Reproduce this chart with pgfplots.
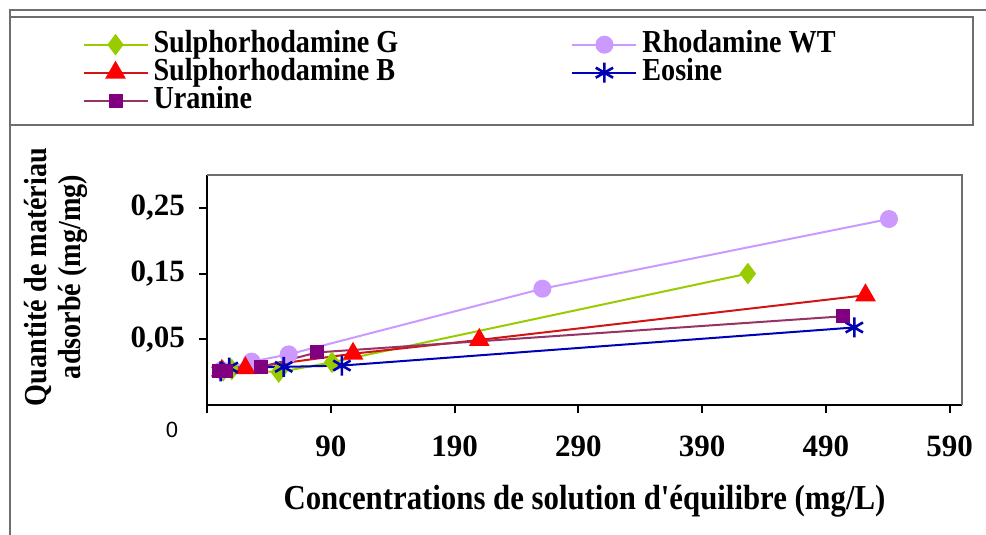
\documentclass[border=0pt]{standalone}
\usepackage{fontspec}
\setmainfont{Liberation Serif}
\setsansfont{Liberation Sans}
\newfontfamily\cond{Liberation Serif}[FakeStretch=0.88]
\usepackage{pgfplots}
\pgfplotsset{compat=1.18}
\definecolor{cWT}{RGB}{204,153,255}
\definecolor{cG}{RGB}{153,204,0}
\definecolor{cB}{RGB}{255,0,0}
\definecolor{cBl}{RGB}{210,20,20}
\definecolor{cU}{RGB}{128,0,128}
\definecolor{cUl}{RGB}{150,50,100}
\definecolor{cE}{RGB}{0,0,180}
\definecolor{frm}{RGB}{110,110,110}
\newcommand\legf{\cond\fontsize{16}{17}\selectfont\bfseries}
\newcommand\ylf{\cond\fontsize{16}{17}\selectfont\bfseries}
\newcommand\xlf{\cond\fontsize{17.5}{19}\selectfont\bfseries}
\newcommand\tickf{\fontsize{15.5}{17}\selectfont\bfseries}
\begin{document}
\begin{tikzpicture}
\path[use as bounding box] (0,0) rectangle (493pt,267.5pt);
\draw[frm, line width=1pt] (5pt,0) -- (5pt,262.5pt) -- (493pt,262.5pt);
\draw[frm, line width=0.8pt] (5pt,259pt) rectangle (486.5pt,205pt);
\begin{axis}[name=ax, at={(103.5pt,65pt)}, anchor=south west, scale only axis,
  width=377.5pt, height=115pt,
  xmin=-10, xmax=600, ymin=-0.05, ymax=0.30,
  axis x line*=bottom, axis y line*=left,
  axis line style={-, black, line width=1pt},
  xtick={-10,90,190,290,390,490,590},
  xticklabels={,90,190,290,390,490,590},
  ytick={0.05,0.15,0.25},
  /pgf/number format/assume math mode=true,
  yticklabel style={/pgf/number format/fixed, /pgf/number format/fixed zerofill,
    /pgf/number format/precision=2, /pgf/number format/use comma, xshift=-3.5pt},
  xticklabel style={yshift=-8pt},
  tick label style={font=\tickf},
  tick align=outside, major tick length=4pt, tick style={black, line width=1pt},
  xlabel={Concentrations de solution d'équilibre (mg/L)},
  xlabel style={at={(axis description cs:0.5,-0.42)}, anchor=center, font=\xlf},
  ylabel={Quantité de matériau\\adsorbé (mg/mg)},
  ylabel style={at={(axis description cs:-0.2,0.5565)}, anchor=center, align=center, font=\ylf},
  legend columns=2,
  legend cell align=left,
  legend style={draw=none, fill=none, at={(axis description cs:-0.1654,1.627)}, anchor=north west,
    font=\legf, nodes={inner xsep=2.5pt, inner ysep=0pt, text height=10.5pt, text depth=3pt},
    /tikz/every even column/.append style={column sep=84pt}, row sep=0.5pt, inner sep=0pt},
  legend image code/.code={\draw[mark repeat=2, mark phase=2, #1] plot coordinates {(0pt,0pt) (16pt,0pt) (32pt,0pt)};},
]
\addplot[color=cG, line width=1pt, mark=diamond*, mark size=4.6pt, mark options={fill=cG, draw=cG}]
  coordinates {(3,0.002) (10,0.004) (48,0.0) (91,0.015) (427,0.150)};
\addlegendentry{Sulphorhodamine G}
\addplot[color=cWT, line width=1pt, mark=*, mark size=4pt, mark options={fill=cWT, draw=cWT}]
  coordinates {(2,0.003) (26,0.016) (56,0.027) (261,0.127) (541,0.233)};
\addlegendentry{Rhodamine WT}
\addplot[color=cBl, line width=1pt, mark=triangle*, mark size=5pt, mark options={fill=cB, draw=cB}]
  coordinates {(2,0.002) (21,0.006) (108,0.028) (210,0.049) (522,0.117)};
\addlegendentry{Sulphorhodamine B}
\addplot[color=cE, line width=1pt, mark=asterisk, mark size=5pt, mark options={draw=cE, line width=1.3pt}]
  coordinates {(1,0.001) (8,0.007) (52,0.008) (99,0.010) (513,0.068)};
\addlegendentry{Eosine}
\addplot[color=cUl, line width=1pt, mark=square*, mark size=3pt, mark options={fill=cU, draw=cU}]
  coordinates {(0,0.001) (5,0.002) (34,0.008) (79,0.030) (504,0.085)};
\addlegendentry{Uranine}
\end{axis}
\draw[frm, line width=0.8pt] (ax.north west) -- (ax.north east) -- (ax.south east);
\node[font=\sffamily\fontsize{11}{12}\selectfont, anchor=center] at (86pt,52.5pt) {0};
\end{tikzpicture}
\end{document}
